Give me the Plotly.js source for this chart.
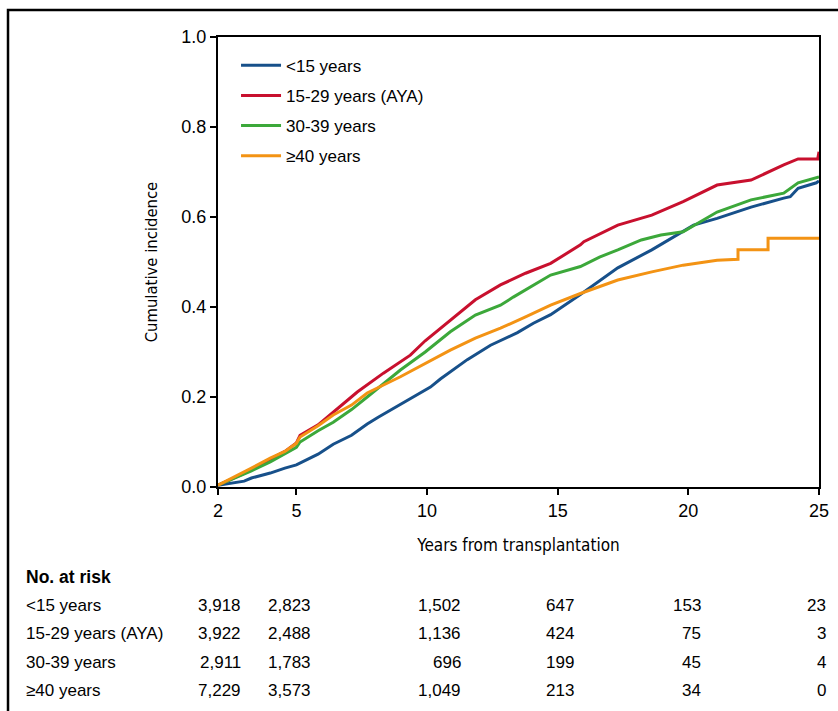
<!DOCTYPE html>
<html>
<head>
<meta charset="utf-8">
<script src="https://cdn.plot.ly/plotly-3.0.1.min.js"></script>
<style>html,body{margin:0;padding:0;background:#fff;}#chart{width:838px;height:711px;}</style>
</head>
<body>
<div id="chart"></div>
<script>
// Series names
const seriesNames = ["<15 years", "15-29 years (AYA)", "30-39 years", "\u226540 years"];

// Cumulative incidence curves (years, value)
const blueX = [2,3,3.28,4,4.56,5,5.83,6.41,7.11,7.71,8.13,8.98,10.13,10.51,11.54,12.43,13.46,14.07,14.73,15.87,17.3,18.6,19.8,20.2,21.1,22.4,23.65,23.9,24.2,24.9,25];
const blueY = [0.004,0.013,0.02,0.031,0.042,0.049,0.073,0.095,0.115,0.14,0.155,0.183,0.222,0.24,0.283,0.315,0.343,0.364,0.383,0.428,0.487,0.527,0.567,0.582,0.597,0.622,0.642,0.645,0.664,0.676,0.68];

const redX = [2,3,4,4.56,5,5.14,5.83,6.41,7.33,8.33,9.36,9.93,10.89,11.85,12.81,13.77,14.73,15.87,16,17.3,18.6,19.8,21.1,22.4,23.65,24.2,24.95,25];
const redY = [0.004,0.03,0.062,0.079,0.098,0.115,0.138,0.167,0.211,0.253,0.293,0.325,0.371,0.416,0.449,0.475,0.497,0.538,0.545,0.582,0.604,0.634,0.671,0.682,0.716,0.729,0.729,0.745];

const greenX = [2,3,3.28,4,4.56,5,5.14,5.83,6.41,7.11,7.71,8.98,9.93,10.89,11.85,12.81,13.3,13.77,14.73,15.87,16.6,17.3,18.2,18.95,19.8,21.1,22.4,23.65,24.2,25];
const greenY = [0.004,0.028,0.036,0.056,0.074,0.088,0.1,0.125,0.144,0.172,0.2,0.26,0.3,0.345,0.382,0.404,0.422,0.438,0.471,0.49,0.511,0.527,0.549,0.56,0.567,0.611,0.638,0.653,0.676,0.689];

const orangeX = [2,3,3.28,4,4.56,5,5.14,5.83,6.41,7.11,7.71,8.98,9.93,10.89,11.85,12.81,13.77,14.73,15.87,17.3,18.6,19.8,21.1,21.9,21.9,23.05,23.05,25];
const orangeY = [0.004,0.033,0.042,0.064,0.079,0.097,0.111,0.136,0.16,0.182,0.209,0.245,0.275,0.304,0.331,0.353,0.378,0.404,0.43,0.46,0.478,0.493,0.504,0.506,0.527,0.527,0.553,0.553];

// Number at risk table
const riskHeader = "No. at risk";
const riskTimes = [2, 5, 10, 15, 20, 25];
const riskBlue = ["3,918","2,823","1,502","647","153","23"];
const riskRed = ["3,922","2,488","1,136","424","75","3"];
const riskGreen = ["2,911","1,783","696","199","45","4"];
const riskOrange = ["7,229","3,573","1,049","213","34","0"];

// Axis ticks
const xTicks = [2, 5, 10, 15, 20, 25];
const yTicks = [0, 0.2, 0.4, 0.6, 0.8, 1.0];

const colors = ["#17508a", "#c8102e", "#3ca83a", "#f39314"];
const xs = [blueX, redX, greenX, orangeX];
const ys = [blueY, redY, greenY, orangeY];

const traces = xs.map((x, i) => ({
  type: "scatter", mode: "lines", x: x, y: ys[i], name: seriesNames[i],
  legendgroup: "g" + i,
  line: {color: colors[i], width: 3}
}));

const baseFont = "Liberation Sans, Arial, Helvetica, sans-serif";
const condFont = "DejaVu Sans Condensed, Liberation Sans Narrow, Arial Narrow, sans-serif";

// Table layout (paper coords)
const colRight = [0.0416, 0.158, 0.4077, 0.5957, 0.807, 1.015];
const rowY = [-0.264, -0.326, -0.39, -0.453];
const rows = [riskBlue, riskRed, riskGreen, riskOrange];
const annotations = [{
  xref: "paper", yref: "paper", x: -0.3228, y: -0.2, xanchor: "left", yanchor: "middle",
  text: "<b>" + riskHeader + "</b>", showarrow: false, font: {family: baseFont, size: 17.5, color: "#000"}
}];
rows.forEach((r, ri) => {
  annotations.push({
    xref: "paper", yref: "paper", x: -0.3228, y: rowY[ri], xanchor: "left", yanchor: "middle",
    text: seriesNames[ri].replace("<", "&lt;"), showarrow: false, font: {family: baseFont, size: 17, color: "#000"}
  });
  r.forEach((v, ci) => {
    annotations.push({
      xref: "paper", yref: "paper", x: colRight[ci], y: rowY[ri], xanchor: "right", yanchor: "middle",
      text: v, showarrow: false, font: {family: baseFont, size: 17, color: "#000"}
    });
  });
});

const layout = {
  width: 838, height: 711,
  margin: {l: 218, r: 19, t: 37, b: 224, pad: 0},
  paper_bgcolor: "#fff", plot_bgcolor: "#fff",
  showlegend: true,
  legend: {x: 0.03, y: 0.976, xanchor: "left", yanchor: "top", bgcolor: "rgba(0,0,0,0)",
    font: {family: baseFont, size: 17, color: "#000"}, tracegroupgap: 5, itemwidth: 40},
  xaxis: {range: [2, 25], tickvals: xTicks, ticktext: xTicks.map(String), ticks: "outside", ticklen: 6, tickwidth: 2,
    tickcolor: "#000", showline: true, linewidth: 2, linecolor: "#000", mirror: true, showgrid: false, zeroline: false,
    tickfont: {family: baseFont, size: 18, color: "#000"},
    title: {text: "Years from transplantation", font: {family: condFont, size: 17, color: "#000"}, standoff: 20}},
  yaxis: {range: [0, 1], tickvals: yTicks, tickformat: ".1f", ticks: "outside", ticklen: 6, tickwidth: 2,
    tickcolor: "#000", showline: true, linewidth: 2, linecolor: "#000", mirror: true, showgrid: false, zeroline: false,
    tickfont: {family: baseFont, size: 18, color: "#000"},
    title: {text: "Cumulative incidence", font: {family: condFont, size: 16.5, color: "#000"}, standoff: 20}},
  shapes: [{type: "rect", xref: "paper", yref: "paper", x0: -0.3494, y0: -0.6, x1: 1.1, y1: 1.06,
    line: {color: "#000", width: 2.5}, fillcolor: "rgba(0,0,0,0)"}],
  annotations: annotations
};

Plotly.newPlot("chart", traces, layout, {staticPlot: true, displayModeBar: false});
</script>
</body>
</html>
